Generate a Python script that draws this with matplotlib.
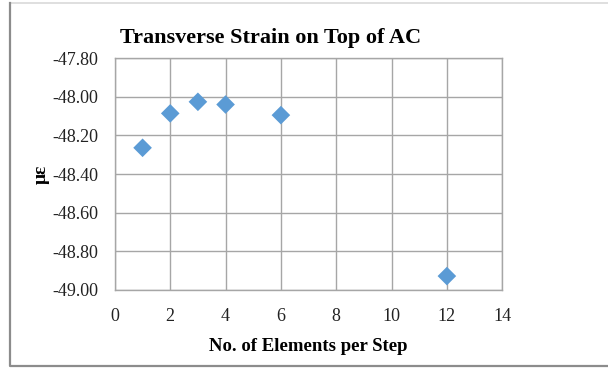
import matplotlib

matplotlib.use("Agg")
import matplotlib.pyplot as plt
from matplotlib.lines import Line2D

# values
elements_per_step = [1, 2, 3, 4, 6, 12]
strain_top_ac = [-48.264, -48.086, -48.026, -48.040, -48.095, -48.928]
x_ticks = [0, 2, 4, 6, 8, 10, 12, 14]
y_ticks = [-49.00, -48.80, -48.60, -48.40, -48.20, -48.00, -47.80]

plt.rcParams["font.family"] = ["Liberation Serif", "DejaVu Serif"]

fig = plt.figure(figsize=(6.08, 3.68), dpi=100)
ax = fig.add_axes([0.189, 0.212, 0.637, 0.630])

grid_col = "#a6a6a6"
ax.scatter(elements_per_step, strain_top_ac, marker="D", s=90, color="#5b9bd5",
           edgecolors="none", zorder=3)

ax.set_xlim(0, 14)
ax.set_ylim(-49.0, -47.8)
ax.set_xticks(x_ticks)
ax.set_yticks(y_ticks)
ax.set_yticklabels([f"{v:.2f}" for v in y_ticks])
ax.grid(True, color=grid_col, linewidth=1.0)
ax.set_axisbelow(True)
for sp in ax.spines.values():
    sp.set_color(grid_col)
    sp.set_linewidth(1.0)
ax.tick_params(length=0, labelsize=13, colors="#222222")
ax.tick_params(axis="x", pad=13)
ax.tick_params(axis="y", pad=12)

# the title sits left of the plot-area centre in the original
fig.text(271 / 608, 1 - 38 / 368, "Transverse Strain on Top of AC", fontsize=16,
         fontweight="bold", ha="center", va="center")
ax.set_xlabel("No. of Elements per Step", fontsize=13.5, fontweight="bold", labelpad=9)
ax.set_ylabel("με", fontsize=14, fontweight="bold", labelpad=2)

# outer chart frame: light top edge, darker left and bottom edges, no right edge
W, H = 608, 368
left, top, bottom = 9.5 / W, 1 - 2.5 / H, 1 - 365.5 / H
fig.lines.append(Line2D([left, 1], [top, top], transform=fig.transFigure,
                        color="#d9d9d9", linewidth=1.2))
fig.lines.append(Line2D([left, left, 1], [top, bottom, bottom], transform=fig.transFigure,
                        color="#8c8c8c", linewidth=1.6))

fig.savefig("out.png", dpi=100)
